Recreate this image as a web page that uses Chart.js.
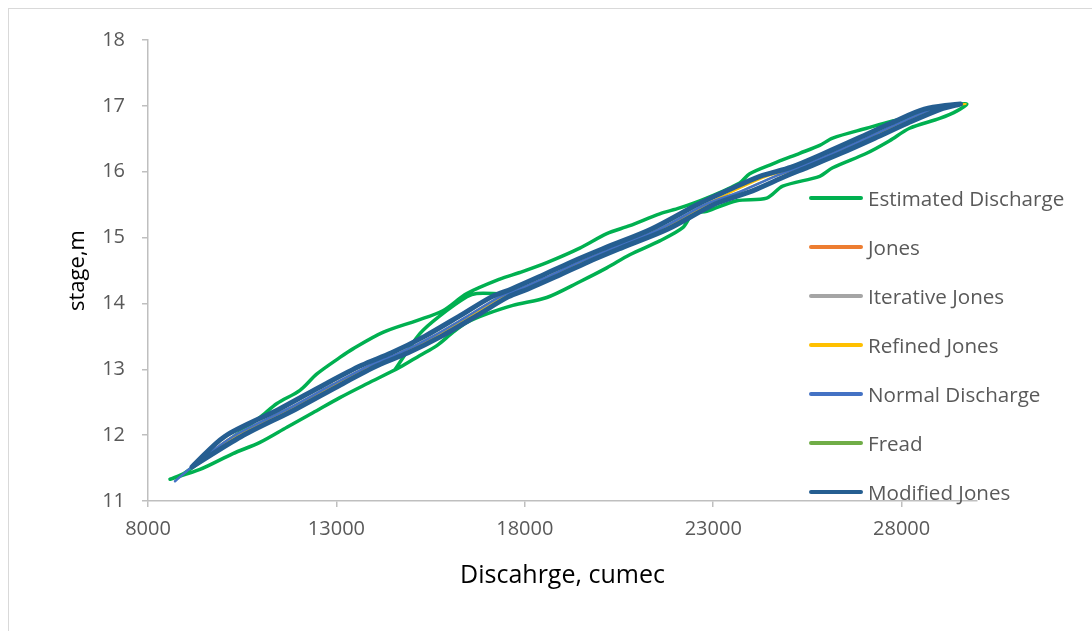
<!DOCTYPE html>
<html>
<head>
<meta charset="utf-8">
<script src="https://cdn.jsdelivr.net/npm/chart.js@4/dist/chart.umd.min.js"></script>
<style>
  html, body { margin: 0; padding: 0; background: #fff; overflow: hidden; }
  #wrap { position: relative; width: 1092px; height: 631px; font-family: "Open Sans", sans-serif; }
  #frame { position: absolute; left: 8px; top: 8px; width: 1200px; height: 700px; border: 1px solid #D9D9D9; }
  #legend { position: absolute; left: 0; top: 0; }
  .lg-item { position: absolute; left: 809px; height: 28px; display: flex; align-items: center; white-space: nowrap; }
  .lg-line { width: 54px; height: 3.5px; border-radius: 2px; }
  .lg-text { margin-left: 5px; font-size: 20.6px; color: #595959; }
</style>
</head>
<body>
<div id="wrap">
  <div id="frame"></div>
  <canvas id="chart"></canvas>
  <div id="legend"></div>
</div>
<script>
// --- DATA ---
const seriesNames = ["Estimated Discharge", "Jones", "Iterative Jones", "Refined Jones", "Normal Discharge", "Fread", "Modified Jones"];
const seriesColors = ["#00B050", "#ED7D31", "#A5A5A5", "#FFC000", "#4472C4", "#70AD47", "#255E91"];
const seriesWidths = [3.5, 2.5, 2.5, 2, 2.5, 2.5, 5];

const xTicks = [8000, 13000, 18000, 23000, 28000];
const yTicks = [11, 12, 13, 14, 15, 16, 17, 18];

// Estimated discharge: rising limb, falling limb, then the short crossing piece
const estQ = [
  8584, 9379, 10255, 10971, 11687, 12377, 13093, 13809, 14684, 15215, 15666, 16090, 16461, 16992, 17682, 18583, 19459,
  20175, 20785, 21581, 22191, 22456, 22827, 23623, 24419, 24843, 25825, 26170, 27071, 27682, 28212, 29008, 29459, 29724,
  29008, 28292, 27761, 27071, 26170, 25825, 25294, 24578, 23968, 23703, 22827, 22111, 21581, 20785, 20175, 19459, 18583,
  17867, 17337, 16461, 15825, 15135, 14233, 13438, 13093, 12483, 12032, 11422, 10971, 10255, 9379, 8981, 8584,
  null,
  14560, 15215, 15745, 16461, 16727, 17602, 18000
];
const estStage = [
  11.33, 11.48, 11.72, 11.89, 12.12, 12.34, 12.57, 12.78, 13.03, 13.21, 13.36, 13.56, 13.71, 13.84, 13.97, 14.09, 14.33,
  14.54, 14.74, 14.95, 15.15, 15.36, 15.40, 15.56, 15.60, 15.78, 15.93, 16.06, 16.28, 16.47, 16.66, 16.81, 16.92, 17.03,
  16.97, 16.83, 16.77, 16.66, 16.51, 16.40, 16.28, 16.12, 15.97, 15.83, 15.60, 15.45, 15.36, 15.18, 15.06, 14.84, 14.62,
  14.47, 14.37, 14.15, 13.89, 13.74, 13.56, 13.31, 13.18, 12.93, 12.68, 12.48, 12.27, 11.97, 11.59, 11.43, 11.33,
  null,
  13.00, 13.54, 13.81, 14.10, 14.15, 14.15, 14.21
];

// stage values shared by the routed loops (rising then falling)
const loopStage = [
  11.52, 11.98, 12.39, 12.77, 13.06, 13.25, 13.50, 13.80, 14.10, 14.22, 14.40, 14.63, 14.84, 15.13, 15.51, 15.71, 15.93,
  16.07, 16.28, 16.51, 16.74, 16.95, 17.03,
  16.95, 16.74, 16.51, 16.28, 16.07, 15.93, 15.71, 15.51, 15.13, 14.84, 14.63, 14.40, 14.22, 14.10, 13.80, 13.50, 13.25,
  13.06, 12.77, 12.39, 11.98, 11.52
];
const jonesQ = [
  9170, 10450, 11882, 13102, 14084, 14879, 15755, 16656, 17532, 18062, 18778, 19654, 20529, 21776, 23022, 24013, 24888,
  25489, 26365, 27266, 28142, 29017, 29575,
  28627, 27752, 26876, 25975, 25099, 24268, 23393, 22632, 21386, 20139, 19264, 18388, 17672, 17142, 16266, 15365, 14489,
  13694, 12712, 11492, 10060, 9170
];
const iterJonesQ = [
  9170, 10460, 11892, 13112, 14094, 14889, 15765, 16666, 17542, 18072, 18788, 19664, 20539, 21786, 23032, 24023, 24898,
  25499, 26375, 27276, 28152, 29027, 29570,
  28617, 27742, 26866, 25965, 25089, 24258, 23383, 22622, 21376, 20129, 19254, 18378, 17662, 17132, 16256, 15355, 14479,
  13684, 12702, 11482, 10050, 9170
];
const refinedJonesQ = [
  9170, 10315, 11747, 12967, 13949, 14744, 15620, 16521, 17397, 17927, 18643, 19519, 20394, 21641, 22887, 23763, 24638,
  25354, 26230, 27131, 28007, 28882, 29700,
  28822, 27947, 27071, 26170, 25294, 24428, 23553, 22827, 21581, 20334, 19459, 18583, 17867, 17337, 16461, 15560, 14684,
  13889, 12907, 11687, 10255, 9170
];
const freadQ = [
  9170, 10485, 11917, 13137, 14119, 14914, 15790, 16691, 17567, 18097, 18813, 19689, 20564, 21811, 23057, 24033, 24908,
  25524, 26400, 27301, 28177, 29052, 29565,
  28592, 27717, 26841, 25940, 25064, 24248, 23373, 22597, 21351, 20104, 19229, 18353, 17637, 17107, 16231, 15330, 14454,
  13659, 12677, 11457, 10025, 9170
];
const modJonesQ = [
  9170, 10475, 11907, 13127, 14109, 14904, 15780, 16681, 17557, 18087, 18803, 19679, 20554, 21801, 23047, 24043, 24918,
  25514, 26390, 27291, 28167, 29042, 29560,
  28602, 27727, 26851, 25950, 25074, 24238, 23363, 22607, 21361, 20114, 19239, 18363, 17647, 17117, 16241, 15340, 14464,
  13669, 12687, 11467, 10035, 9170
];

// steady (normal) rating curve
const normalStage = [11.30, 11.52, 11.98, 12.39, 12.77, 13.06, 13.25, 13.50, 13.80, 14.10, 14.22, 14.40, 14.63, 14.84,
  15.13, 15.51, 15.71, 15.93, 16.07, 16.28, 16.51, 16.74, 16.95, 17.03];
const normalQ = [8716, 9170, 10255, 11687, 12907, 13889, 14684, 15560, 16461, 17337, 17867, 18583, 19459, 20334,
  21581, 22827, 23763, 24638, 25294, 26170, 27071, 27947, 28822, 29560];

// --- HELPERS ---
function pairUp(qs, stages) {
  return qs.map((q, i) => ({ x: q, y: stages[i] }));
}

const seriesData = [
  pairUp(estQ, estStage),
  pairUp(jonesQ, loopStage),
  pairUp(iterJonesQ, loopStage),
  pairUp(refinedJonesQ, loopStage),
  pairUp(normalQ, normalStage),
  pairUp(freadQ, loopStage),
  pairUp(modJonesQ, loopStage)
];

// later series drawn on top, like the original spreadsheet chart
const datasets = seriesNames.map((name, i) => ({
  label: name,
  data: seriesData[i],
  borderColor: seriesColors[i],
  backgroundColor: seriesColors[i],
  borderWidth: seriesWidths[i],
  showLine: true,
  pointRadius: 0,
  tension: 0.3,
  spanGaps: false,
  borderCapStyle: 'round',
  borderJoinStyle: 'round',
  order: seriesNames.length - i
}));

// --- LEGEND (html) ---
const legendY = [198, 247, 296, 345, 394, 443, 492];
const legendEl = document.getElementById('legend');
seriesNames.forEach((name, i) => {
  legendEl.innerHTML += `<div class="lg-item" style="top:${legendY[i] - 14}px">
    <div class="lg-line" style="background:${seriesColors[i]}"></div>
    <span class="lg-text">${name}</span></div>`;
});

// --- CHART ---
const axisGray = '#BFBFBF';
const tickFont = { family: 'Open Sans', size: 20 };

new Chart(document.getElementById('chart'), {
  type: 'scatter',
  data: { datasets: datasets },
  options: {
    responsive: true,
    maintainAspectRatio: false,
    animation: false,
    layout: { padding: { left: 0, right: 115, top: 40, bottom: 0 } },
    plugins: { legend: { display: false }, tooltip: { enabled: false } },
    scales: {
      x: {
        type: 'linear',
        min: 8000,
        max: 30000,
        afterBuildTicks: s => { s.ticks = xTicks.map(v => ({ value: v })); },
        afterFit: s => { s.height = 130; },
        grid: { drawOnChartArea: false, drawTicks: true, tickLength: 6, color: axisGray, lineWidth: 1.5 },
        border: { color: axisGray, width: 1.5 },
        ticks: { color: '#595959', font: tickFont, padding: 10, maxRotation: 0, callback: v => String(v) },
        title: { display: true, text: 'Discahrge, cumec', color: '#000', font: { family: 'Open Sans', size: 25 }, padding: { top: 0, bottom: 40 } }
      },
      y: {
        type: 'linear',
        min: 11,
        max: 18,
        afterBuildTicks: s => { s.ticks = yTicks.map(v => ({ value: v })); },
        afterFit: s => { s.width = 148; },
        grid: { drawOnChartArea: false, drawTicks: true, tickLength: 6, color: axisGray, lineWidth: 1.5 },
        border: { color: axisGray, width: 1.5 },
        ticks: { color: '#595959', font: tickFont, padding: 17, callback: v => String(v) },
        title: { display: true, text: 'stage,m', color: '#000', font: { family: 'Open Sans', size: 22 }, padding: { top: 65, bottom: 0 } }
      }
    }
  }
});
</script>
</body>
</html>
